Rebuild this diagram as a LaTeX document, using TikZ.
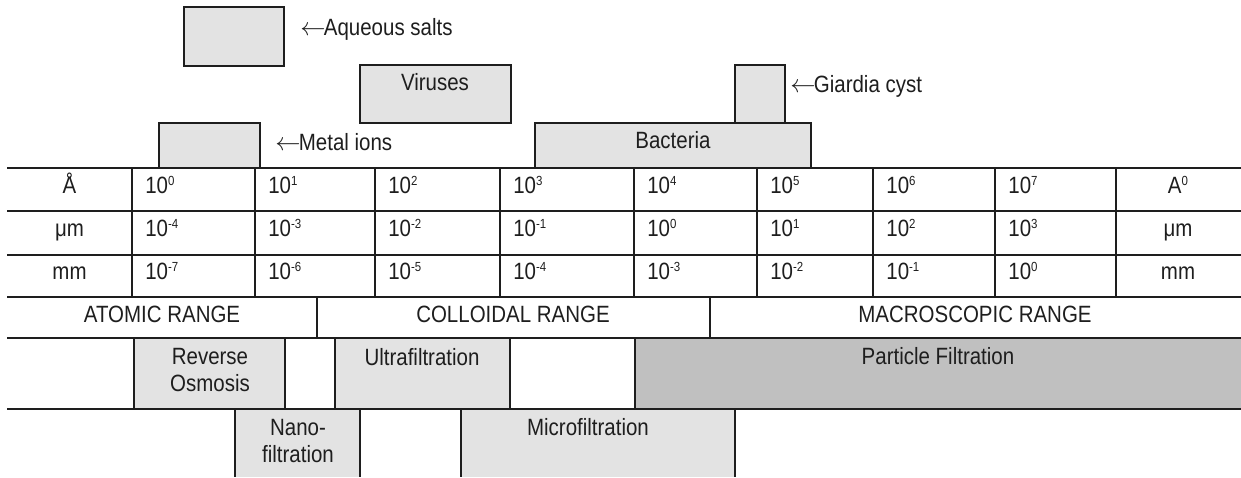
\documentclass[tikz,border=0pt]{standalone}
\usepackage{fontspec}
\setmainfont{Liberation Sans}[FakeStretch=0.87]
\definecolor{boxgray}{HTML}{E3E3E3}
\definecolor{pfgray}{HTML}{C0C0C0}
\definecolor{ink}{HTML}{1E1E1E}
\newcommand\hisup[1]{\raisebox{4.2pt}{\fontsize{7.5}{8}\selectfont #1}}
\newcommand\tenpow[1]{10\hisup{#1}}
\newcommand\pointer{$\leftarrow$\kern-1pt}
\tikzset{
	lbl/.style={font=\fontsize{13.4}{15.4}\selectfont, text=ink, inner sep=0pt},
	sizebox/.style={fill=boxgray, draw=ink, line width=1pt},
	scaleline/.style={draw=ink, line width=1.1pt},
}
\begin{document}
\begin{tikzpicture}[x=0.02cm, y=-0.02cm]
		\useasboundingbox (0,0) rectangle (1241,477);
		
		% particles
		\draw[sizebox] (184,7) rectangle (284,66);
		\node[lbl, anchor=base west] (aqueous) at (300,35) {\pointer Aqueous salts};
		\draw[sizebox] (360,65) rectangle (511,123);
		\node[lbl, anchor=base] (viruses) at (435,90) {Viruses};
		\draw[sizebox] (159,123) rectangle (260,168);
		\node[lbl, anchor=base west] (metal) at (275,150) {\pointer Metal ions};
		\draw[sizebox] (535,123) rectangle (811,168);
		\node[lbl, anchor=base] (bacteria) at (673,148) {Bacteria};
		\draw[sizebox] (735,65) rectangle (785,123);
		\node[lbl, anchor=base west] (giardia) at (790,92) {\pointer Giardia cyst};
		
		% processes
		\fill[boxgray] (134,338) rectangle (285,409);
		\fill[boxgray] (335,338) rectangle (510,409);
		\fill[pfgray] (635,338) rectangle (1241,409);
		\fill[boxgray] (235,409) rectangle (360,477);
		\fill[boxgray] (461,409) rectangle (735,477);
		
		% scale
		\foreach \y in {168,211,255,297,338,409} \draw[scaleline] (7,\y) -- (1241,\y);
		\foreach \x in {132,255,375,500,634,757,873,995,1116} \draw[scaleline] (\x,168) -- (\x,297);
		\foreach \x in {317,710} \draw[scaleline] (\x,297) -- (\x,338);
		\foreach \x in {134,285,335,510,635} \draw[scaleline] (\x,338) -- (\x,409);
		\foreach \x in {235,360,461,735} \draw[scaleline] (\x,409) -- (\x,477);
		
		\node[lbl, anchor=base] (angL) at (69.5,193) {Å};
		\node[lbl, anchor=base] (umL) at (69.5,236) {μm};
		\node[lbl, anchor=base] (mmL) at (69.5,279) {mm};
		\node[lbl, anchor=base] (angR) at (1178,193) {A\hisup{0}};
		\node[lbl, anchor=base] (umR) at (1178,236) {μm};
		\node[lbl, anchor=base] (mmR) at (1178,279) {mm};
		\foreach \x/\a/\u/\m [count=\i] in {132/0/-4/-7, 255/1/-3/-6, 375/2/-2/-5, 500/3/-1/-4, 634/4/0/-3, 757/5/1/-2, 873/6/2/-1, 995/7/3/0} {
			\node[lbl, anchor=base west] (ang\i) at (\x+13,193) {\tenpow{\a}};
			\node[lbl, anchor=base west] (um\i) at (\x+13,236) {\tenpow{\u}};
			\node[lbl, anchor=base west] (mm\i) at (\x+13,279) {\tenpow{\m}};
		}
		
		\node[lbl, anchor=base] (atomic) at (162,322) {ATOMIC RANGE};
		\node[lbl, anchor=base] (colloidal) at (513,322) {COLLOIDAL RANGE};
		\node[lbl, anchor=base] (macro) at (975,322) {MACROSCOPIC RANGE};
		
		\node[lbl, align=center, anchor=north] (ro) at (210,348) {Reverse\\Osmosis};
		\node[lbl, anchor=base] (uf) at (422,365) {Ultrafiltration};
		\node[lbl, anchor=base] (pf) at (938,364) {Particle Filtration};
		\node[lbl, align=center, anchor=north] (nf) at (298,419) {Nano-\\filtration};
		\node[lbl, anchor=base] (mf) at (588,435) {Microfiltration};
	\end{tikzpicture}
\end{document}
